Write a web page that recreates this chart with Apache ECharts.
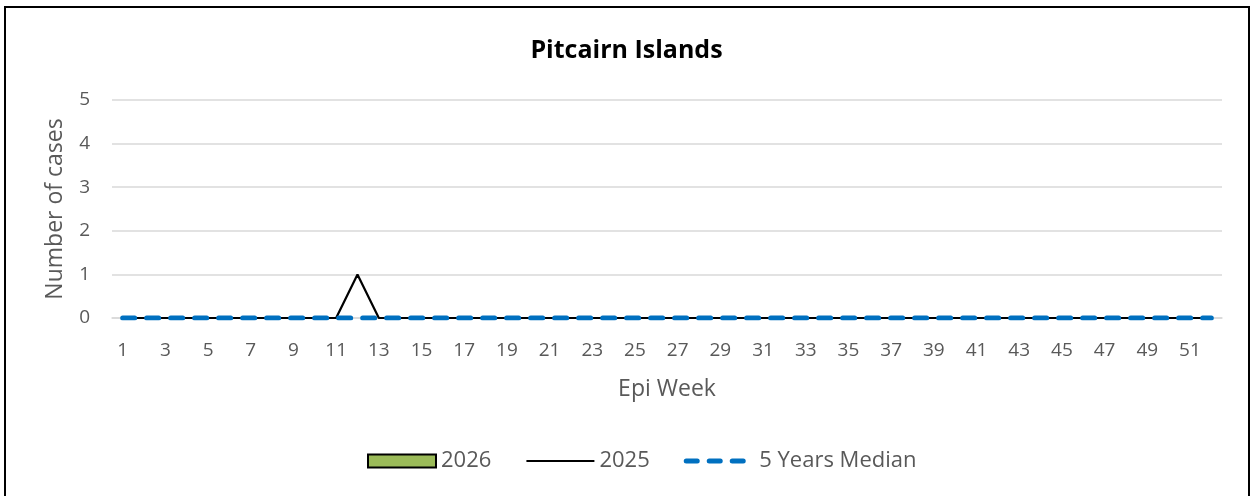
<!DOCTYPE html>
<html>
<head>
<meta charset="utf-8">
<script src="https://cdn.jsdelivr.net/npm/echarts@6/dist/echarts.min.js"></script>
<style>
  html, body { margin: 0; padding: 0; background: #fff; overflow: hidden; }
  #frame { position: absolute; left: 4px; top: 6px; width: 1246px; height: 500px; border: 2px solid #000; box-sizing: border-box; }
  #chart { position: absolute; left: 0; top: 0; width: 1253px; height: 496px; }
</style>
</head>
<body>
<div id="frame"></div>
<div id="chart"></div>
<script>
// weeks 1..52
var weeks = [];
for (var w = 1; w <= 52; w++) weeks.push(String(w));

var cases2026 = [];
var cases2025 = [0,0,0,0,0,0,0,0,0,0,0,1,0,0,0,0,0,0,0,0,0,0,0,0,0,0,
                 0,0,0,0,0,0,0,0,0,0,0,0,0,0,0,0,0,0,0,0,0,0,0,0,0,0];
var median5y = [0,0,0,0,0,0,0,0,0,0,0,0,0,0,0,0,0,0,0,0,0,0,0,0,0,0,
                0,0,0,0,0,0,0,0,0,0,0,0,0,0,0,0,0,0,0,0,0,0,0,0,0,0];
var yTicks = [0, 1, 2, 3, 4, 5];

var font = "'Open Sans', 'Noto Sans', sans-serif";
var gray = "#595959";
var blue = "#0070c0";

var myChart = echarts.init(document.getElementById("chart"));
var option = {
    animation: false,
    title: {
        text: "Pitcairn Islands",
        left: "center",
        top: 33,
        textStyle: { fontFamily: font, fontSize: 25, fontWeight: "bold", color: "#000" }
    },
    legend: {
        top: 445,
        left: 362,
        itemGap: 34,
        itemWidth: 68,
        itemHeight: 13,
        textStyle: { fontFamily: font, fontSize: 22, color: gray },
        data: [
            { name: "2026", icon: "rect" },
            { name: "2025", itemStyle: { opacity: 0 }, lineStyle: { color: "#000", width: 2.2 } },
            { name: "5 Years Median", itemStyle: { opacity: 0 },
              lineStyle: { color: blue, width: 5, type: [11, 12], cap: "round" } }
        ]
    },
    grid: { left: 112, right: 31, top: 100, bottom: 178, containLabel: false },
    xAxis: {
        type: "category",
        data: weeks,
        boundaryGap: true,
        name: "Epi Week",
        nameLocation: "middle",
        nameGap: 60,
        nameTextStyle: { fontFamily: font, fontSize: 23, color: gray },
        axisLine: { show: true, lineStyle: { color: "#d9d9d9", width: 1.5 } },
        axisTick: { show: false },
        axisLabel: { interval: 1, fontFamily: font, fontSize: 19, color: gray, margin: 23 }
    },
    yAxis: {
        type: "value",
        min: yTicks[0],
        max: yTicks[yTicks.length - 1],
        interval: 1,
        name: "Number of cases",
        nameLocation: "middle",
        nameGap: 45,
        nameTextStyle: { fontFamily: font, fontSize: 23, color: gray },
        axisLine: { show: false },
        axisTick: { show: false },
        axisLabel: { fontFamily: font, fontSize: 19, color: gray, margin: 22 },
        splitLine: { lineStyle: { color: "#d9d9d9", width: 1.5 } }
    },
    series: [
        {
            name: "2026",
            type: "bar",
            data: cases2026,
            itemStyle: { color: "#9bbb59", borderColor: "#000", borderWidth: 1.5 }
        },
        {
            name: "2025",
            type: "line",
            data: cases2025,
            symbol: "none",
            itemStyle: { color: "#000" },
            lineStyle: { color: "#000", width: 2.2 }
        },
        {
            name: "5 Years Median",
            type: "line",
            data: median5y,
            symbol: "none",
            itemStyle: { color: blue },
            lineStyle: { color: blue, width: 5, type: [12, 12], cap: "round" }
        }
    ]
};
myChart.setOption(option);
</script>
</body>
</html>
